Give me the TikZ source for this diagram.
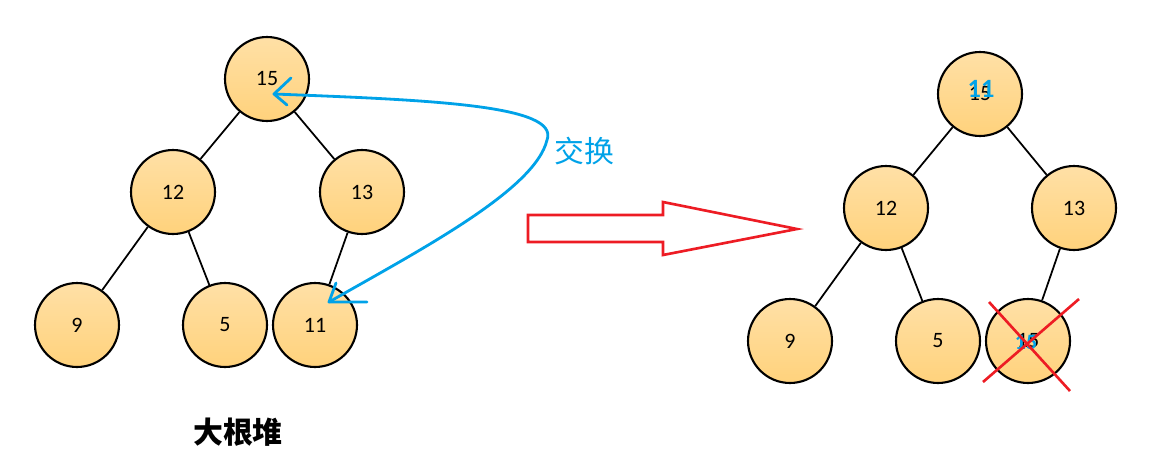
\documentclass[tikz,border=0pt]{standalone}
\usepackage{fontspec}
\setmainfont{Carlito}
\newfontfamily\cjk{Noto Sans CJK SC}
\usetikzlibrary{shadings}
\definecolor{heapfill}{HTML}{FFD27C}
\definecolor{heaptop}{HTML}{FFE0A6}
\definecolor{swapblue}{HTML}{00A2E8}
\definecolor{markred}{HTML}{ED1C24}

\begin{document}
\begin{tikzpicture}[x=0.02cm,y=-0.02cm,
    vertex/.style={circle,draw,line width=1.2pt,minimum size=1.68cm,inner sep=0pt,
      top color=heaptop,bottom color=heapfill,font=\fontsize{12.5}{14}\selectfont},
    link/.style={line width=1pt},
    swap/.style={swapblue,line width=1.6pt,line cap=round,line join=round}]
    \useasboundingbox (0,0) rectangle (1158,463);
    % left heap
    \node[vertex] (15) at (267,79) {15};
    \node[vertex] (12) at (173,192) {12};
    \node[vertex] (13) at (362,192) {13};
    \node[vertex] (9) at (77,325) {9};
    \node[vertex] (5) at (225,325) {5};
    \node[vertex] (11) at (315,325) {11};
    \draw[link] (15) -- (12);
    \draw[link] (15) -- (13);
    \draw[link] (12) -- (9);
    \draw[link] (12) -- (5);
    \draw[link] (13) -- (11);
    \node[font=\cjk\bfseries\fontsize{17}{20}\selectfont] (title) at (238,432) {大根堆};
    % swap stroke
    \coordinate (top) at (274,94);
    \coordinate (bot) at (329,302);
    \draw[swap] (top) .. controls (430,100) and (560,105) .. (547,140)
      .. controls (535,190) and (420,250) .. (bot);
    \draw[swap] (291,78) -- (top) -- (287,105);
    \draw[swap] (336,283) -- (bot) -- (367,302);
    \node[swapblue,font=\cjk\fontsize{17}{20}\selectfont] (swaplbl) at (584,151) {交换};
    % big red arrow
    \draw[markred,line width=1.5pt] (528,215) -- (663,215) -- (663,202) -- (797,229)
      -- (663,255) -- (663,242) -- (528,242) -- cycle;
    % right heap
    \node[vertex] (r15) at (980,94) {15};
    \node[vertex] (r12) at (886,208) {12};
    \node[vertex] (r13) at (1074,208) {13};
    \node[vertex] (r9) at (790,341) {9};
    \node[vertex] (r5) at (938,341) {5};
    \node[vertex] (r11) at (1028,341) {15};
    \draw[link] (r15) -- (r12);
    \draw[link] (r15) -- (r13);
    \draw[link] (r12) -- (r9);
    \draw[link] (r12) -- (r5);
    \draw[link] (r13) -- (r11);
    \node[swapblue,font=\bfseries\fontsize{15}{16}\selectfont] at (981,89) {11};
    \node[swapblue,font=\bfseries\fontsize{12.5}{14}\selectfont] at (1026,342) {15};
    \draw[markred,line width=1.5pt] (989,302) -- (1070,391);
    \draw[markred,line width=1.5pt] (983,382) -- (1079,299);
\end{tikzpicture}
\end{document}
